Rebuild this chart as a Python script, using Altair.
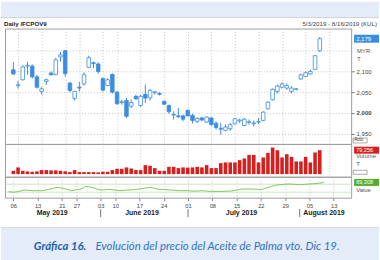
import altair as alt
import pandas as pd

# ---------------- data ----------------
holidays = ["2019-05-20", "2019-05-22", "2019-06-05", "2019-06-06", "2019-08-12"]
trading_days = [d for d in pd.bdate_range("2019-05-03", "2019-08-16").strftime("%Y-%m-%d")
                if d not in holidays]

open_p = [2104, 2066, 2080, 2113, 2113, 2087, 2052, 2076, 2096, 2093, 2135, 2150, 2072, 2035,
          2062, 2070, 2110, 2121, 2118, 2083, 2066, 2093, 2050, 2025, 2030, 2016, 2040, 2018,
          2045, 2036, 2049, 2047, 2028, 2018, 1996, 1993, 1993, 2006, 1994, 1980, 1988, 1978,
          1988, 1975, 1963, 1958, 1962, 1974, 1981, 1970, 1977, 1974, 1978, 1982, 2010, 2032,
          2052, 2062, 2060, 2052, 2057, 2082, 2088, 2094, 2105, 2150]
high_p = [2123, 2077, 2115, 2123, 2117, 2092, 2062, 2083, 2100, 2133, 2147, 2152, 2075, 2053,
          2075, 2098, 2138, 2124, 2122, 2085, 2084, 2095, 2053, 2032, 2036, 2032, 2044, 2044,
          2068, 2058, 2052, 2050, 2030, 2020, 2004, 2012, 1996, 2008, 1998, 1989, 1990, 1992,
          1989, 1980, 1976, 1972, 1976, 1988, 1986, 1988, 1984, 1982, 1988, 2004, 2028, 2059,
          2068, 2074, 2071, 2064, 2060, 2095, 2100, 2104, 2140, 2183]
low_p = [2092, 2059, 2078, 2092, 2083, 2059, 2044, 2068, 2090, 2091, 2124, 2087, 2050, 2030,
         2052, 2066, 2108, 2108, 2095, 2052, 2064, 2047, 2020, 2020, 1988, 2012, 2032, 2015,
         2024, 2030, 2044, 2042, 2020, 1998, 1984, 1988, 1980, 1992, 1975, 1976, 1980, 1976,
         1968, 1960, 1948, 1956, 1957, 1972, 1976, 1968, 1972, 1968, 1974, 1980, 2008, 2030,
         2047, 2059, 2056, 2047, 2054, 2080, 2087, 2092, 2104, 2147]
close_p = [2094, 2068, 2111, 2115, 2087, 2062, 2058, 2080, 2092, 2128, 2140, 2095, 2054, 2052,
           2060, 2092, 2133, 2119, 2100, 2055, 2080, 2050, 2022, 2027, 1992, 2025, 2034, 2040,
           2036, 2054, 2051, 2045, 2021, 2003, 1995, 1991, 1985, 1993, 1982, 1987, 1983, 1990,
           1972, 1965, 1961, 1966, 1972, 1986, 1983, 1985, 1979, 1976, 1979, 2002, 2026, 2057,
           2065, 2070, 2066, 2060, 2058, 2092, 2097, 2100, 2138, 2179]
volume = [10900, 22100, 10900, 8900, 7600, 8900, 13200, 13200, 12200, 12200, 10900, 8900, 6600,
          13200, 6600, 6600, 6600, 6600, 5600, 7600, 7600, 13200, 17500, 17500, 22100, 18800,
          13200, 13200, 29700, 27400, 19800, 10900, 10900, 24100, 24100, 19800, 22100, 21500,
          22100, 24100, 22100, 29700, 19800, 19800, 36300, 38600, 38600, 38600, 46200, 51800,
          63700, 63700, 38600, 55100, 70300, 88100, 79200, 55100, 66000, 57100, 41900, 41900,
          57100, 38600, 71600, 79256]
value_oi = [80000, 79500, 80000, 81500, 81500, 81000, 81000, 81000, 82000, 83000, 84300, 83700,
            82500, 81000, 82000, 82700, 85300, 84500, 83000, 81700, 82000, 82300, 81500, 81000,
            81500, 81700, 82200, 82700, 83500, 84300, 83500, 82300, 82300, 81700, 81500, 81000,
            81000, 81000, 80500, 80700, 81000, 80500, 80300, 80300, 80300, 80500, 80800, 81500,
            82500, 82700, 82700, 82500, 82000, 83500, 85000, 86500, 87000, 87500, 87700, 87300,
            87000, 87300, 87700, 88000, 88500, 89308]

tick_dates = ["2019-05-06", "2019-05-13", "2019-05-21", "2019-05-27", "2019-06-03", "2019-06-10",
              "2019-06-17", "2019-06-24", "2019-07-01", "2019-07-08", "2019-07-15", "2019-07-22",
              "2019-07-29", "2019-08-05", "2019-08-13"]
tick_labels = ["06", "13", "21", "27", "03", "10", "17", "24", "01", "08", "15", "22", "29", "05", "13"]
month_names = ["May 2019", "June 2019", "July 2019", "August 2019"]
price_ticks = [1950, 2000, 2050, 2100, 2150]
value_grid = [80000, 88000]

title_text = "Daily /FCPOV9"
range_text = "5/3/2019 - 8/16/2019 (KUL)"
caption_bold = "Gráfica 16."
caption_rest = "Evolución del precio del Aceite de Palma vto. Dic 19."

# ---------------- tables ----------------
n = len(close_p)
df = pd.DataFrame({"i": range(n), "open": open_p, "high": high_p, "low": low_p,
                   "close": close_p, "volume": volume, "value": value_oi})
last = df.iloc[[-1]]

tick_idx = [trading_days.index(d) for d in tick_dates]
label_arr = [""] * len(trading_days)
for k, lab in zip(tick_idx, tick_labels):
    label_arr[k] = lab
label_expr = "[" + ",".join("'%s'" % s for s in label_arr) + "][datum.value]"

mdf = pd.DataFrame({"m": pd.to_datetime(trading_days).month, "i": range(len(trading_days))})
month_df = mdf.groupby("m")["i"].agg(["min", "max"]).reset_index()
month_df["center"] = (month_df["min"] + month_df["max"]) / 2
month_df["label"] = month_names
sep_df = month_df.iloc[1:]

one = pd.DataFrame({"k": [0]})

# ---------------- style ----------------
BLUE = "#3b8de0"
RED = "#d91e1e"
GREEN = "#72c04e"
BAND = "#e3ecf8"
GRID = "#b5b5b5"
FONT = "Liberation Sans"
W, H1, H2, H3 = 348, 116, 33, 21

xs = alt.Scale(domain=[-0.72, len(trading_days) - 0.4], nice=False, zero=False)
ys_p = alt.Scale(domain=[1925.3, 2203.5], nice=False, zero=False)
ys_v = alt.Scale(domain=[-8900, 100000], nice=False, zero=False)
ys_o = alt.Scale(domain=[74000, 95000], nice=False, zero=False)


def x_axis(show):
    return alt.Axis(values=tick_idx, grid=True, gridColor=GRID, gridDash=[1, 2], gridWidth=0.8,
                    labels=show, ticks=show, domain=False, title=None, labelExpr=label_expr,
                    labelFontSize=5.8, labelColor="#444", labelFont=FONT, tickSize=3,
                    tickColor="#888", labelPadding=2, labelOverlap=False, labelFlush=False)


def note(txt, x, y, size=6, color="#555", weight="normal", align="left"):
    return alt.Chart(one).mark_text(text=txt, fontSize=size, color=color, fontWeight=weight,
                                    align=align, baseline="middle", font=FONT).encode(
        x=alt.value(x), y=alt.value(y))


def box(x1, x2, y1, y2, fill="white", stroke="#888"):
    return alt.Chart(one).mark_rect(fill=fill, stroke=stroke, strokeWidth=0.7).encode(
        x=alt.value(x1), x2=alt.value(x2), y=alt.value(y1), y2=alt.value(y2))


price_axis = alt.Axis(
    orient="right", values=price_ticks, grid=True, gridColor=GRID, gridDash=[1, 2], gridWidth=0.8,
    labelExpr="datum.value > 2120 ? '' : format(datum.value, ',')", tickSize=3, tickColor="#777",
    tickOpacity={"condition": {"test": "datum.value > 2120", "value": 0}, "value": 1},
    labelFontWeight={"condition": {"test": "datum.value == 2000", "value": "bold"}, "value": "normal"},
    labelFontSize=6, labelColor="#444", labelFont=FONT, labelPadding=2, domain=False, title=None,
    labelOverlap=False, labelFlush=False)

xp = alt.X("i:Q", scale=xs, axis=x_axis(False))
xb = alt.X("i:Q", scale=xs, axis=x_axis(True))

# ---------------- price panel ----------------
base = alt.Chart(df)
wick = base.mark_rule(color=BLUE, strokeWidth=1).encode(
    x=xp, y=alt.Y("low:Q", scale=ys_p, axis=price_axis), y2="high:Q")
body = base.mark_bar(size=3.6, stroke=BLUE, strokeWidth=0.8).encode(
    x=xp, y=alt.Y("open:Q", scale=ys_p, axis=price_axis), y2="close:Q",
    fill=alt.condition("datum.close >= datum.open", alt.value("white"), alt.value(BLUE)))
pbox = alt.Chart(last).mark_tick(orient="horizontal", size=25, thickness=8, color=BLUE,
                                 opacity=1).encode(
    x=alt.value(W + 15.5), y=alt.Y("close:Q", scale=ys_p, axis=price_axis))
ptxt = alt.Chart(last).mark_text(align="left", baseline="middle", fontSize=6, color="white",
                                 font=FONT).encode(
    x=alt.value(W + 5), y=alt.Y("close:Q", scale=ys_p, axis=price_axis),
    text=alt.Text("close:Q", format=","))
band_top = alt.Chart(one).mark_rect(color=BAND).encode(
    x=alt.value(-4), x2=alt.value(W + 28), y=alt.value(-27), y2=alt.value(-11.5))
line_top = alt.Chart(one).mark_rule(color="#c4c4c4", strokeWidth=0.8).encode(
    x=alt.value(-4), x2=alt.value(W + 28), y=alt.value(-11))

price = alt.layer(
    band_top, line_top, wick, body, pbox, ptxt,
    note(title_text, -1, -5, size=6.2, color="#222", weight="bold"),
    note(range_text, W + 26, -5, size=6.2, color="#444", align="right"),
    note("MYR", W + 6, 23), note("T", W + 6, 31),
    box(W + 2, W + 16, 110, 115), note("Auto", W + 3, 112.5, size=4.5, color="#333"),
).properties(width=W, height=H1)

# ---------------- volume panel ----------------
vbars = alt.Chart(df).mark_bar(size=3.6, color=RED).encode(
    x=xp, y=alt.Y("volume:Q", scale=ys_v, axis=None))
vbox = alt.Chart(last).mark_tick(orient="horizontal", size=25, thickness=7, color=RED,
                                 opacity=1).encode(x=alt.value(W + 15.5),
                                                   y=alt.Y("volume:Q", scale=ys_v, axis=None))
vtxt = alt.Chart(last).mark_text(align="left", baseline="middle", fontSize=5.6, color="white",
                                 font=FONT).encode(x=alt.value(W + 5),
                                                   y=alt.Y("volume:Q", scale=ys_v, axis=None),
                                                   text=alt.Text("volume:Q", format=","))
vol = alt.layer(
    vbars, vbox, vtxt,
    note("Volume", W + 5, 12.5), note("T", W + 5, 20.5),
    box(W + 2, W + 16, 26.5, 30.5),
).properties(width=W, height=H2)

# ---------------- value panel ----------------
o_axis = alt.Axis(values=value_grid, grid=True, gridColor="#c9e2bb", gridWidth=0.9,
                  labels=False, ticks=False, domain=False, title=None)
oline = alt.Chart(df).mark_line(color=GREEN, strokeWidth=0.9).encode(
    x=xb, y=alt.Y("value:Q", scale=ys_o, axis=o_axis))
obox = alt.Chart(last).mark_tick(orient="horizontal", size=25, thickness=7, color="#4fae2c",
                                 opacity=1).encode(x=alt.value(W + 15.5),
                                                   y=alt.Y("value:Q", scale=ys_o, axis=o_axis))
otxt = alt.Chart(last).mark_text(align="left", baseline="middle", fontSize=5.6, color="white",
                                 font=FONT).encode(x=alt.value(W + 5),
                                                   y=alt.Y("value:Q", scale=ys_o, axis=o_axis),
                                                   text=alt.Text("value:Q", format=","))
mon = alt.Chart(month_df).mark_text(fontSize=7, fontWeight="bold", color="#222", font=FONT,
                                    baseline="middle").encode(
    x=alt.X("center:Q", scale=xs, axis=x_axis(True)), y=alt.value(H3 + 15.5), text="label:N")
sep = alt.Chart(sep_df).mark_rule(color="#555", strokeWidth=0.8).encode(
    x=alt.X("min:Q", scale=xs, axis=x_axis(True)), y=alt.value(H3 + 11.5), y2=alt.value(H3 + 19.5))
band_bot = alt.Chart(one).mark_rect(color=BAND).encode(
    x=alt.value(-4), x2=alt.value(W + 28), y=alt.value(H3 + 30), y2=alt.value(H3 + 63))
line_bot = alt.Chart(one).mark_rule(color="#d4d4d4", strokeWidth=0.8).encode(
    x=alt.value(-4), x2=alt.value(W + 28), y=alt.value(H3 + 30))
cap1 = alt.Chart(one).mark_text(text=caption_bold, fontSize=11.4, fontWeight="bold",
                                fontStyle="italic", color="#1d5fae", font="Lato", align="left",
                                baseline="middle").encode(x=alt.value(29), y=alt.value(H3 + 50))
cap2 = alt.Chart(one).mark_text(text=caption_rest, fontSize=11.4, fontStyle="italic",
                                color="#2f74c2", font="Lato", align="left",
                                baseline="middle").encode(x=alt.value(91), y=alt.value(H3 + 50))

val = alt.layer(
    band_bot, line_bot, oline, obox, otxt, mon, sep, cap1, cap2,
    note("Value", W + 5, 13.5),
).properties(width=W, height=H3)

chart = alt.vconcat(price, vol, val, spacing=0, bounds="flush").configure(
    background="white", padding=0, font=FONT
).configure_view(stroke="#9d9d9d", strokeWidth=1).configure_axis(labelOverlap=False)

chart.save("out.html", embed_options={"renderer": "svg", "actions": False})
